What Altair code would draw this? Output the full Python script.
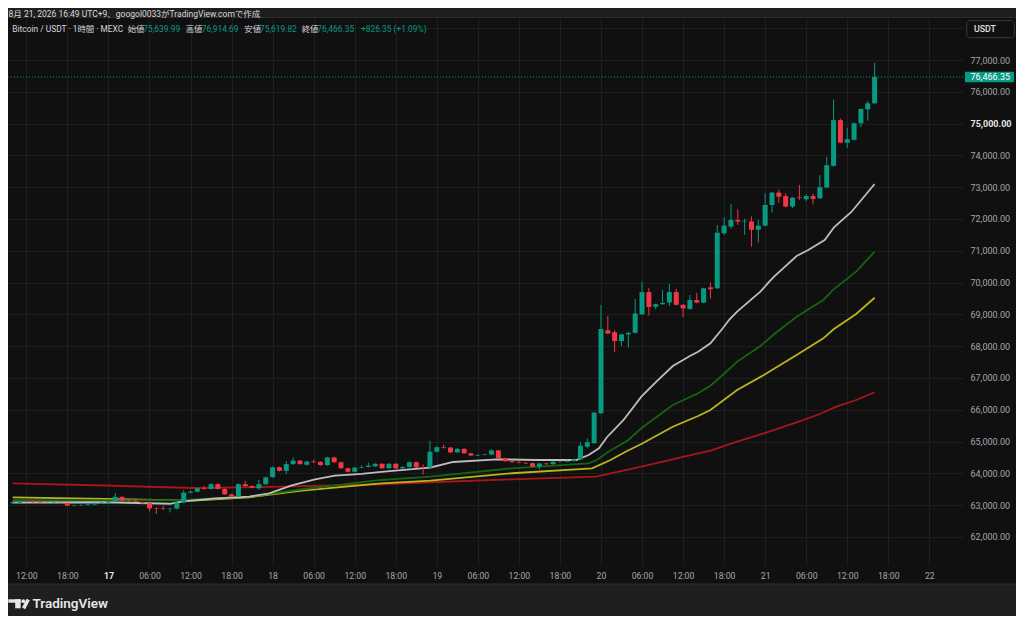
import altair as alt
import pandas as pd

# ---------------- data ----------------
FIRST_HOUR = 10  # first hourly bar = Aug 16 10:00 (hours counted from Aug 16 00:00)

opens = [63060, 63070, 63110, 63130, 63090, 63070, 63060, 63075, 63070, 62985,
         62995, 63000, 63020, 63060, 63080, 63130, 63260, 63140, 63125, 63100,
         63060, 62900, 62895, 62875, 62890, 63080, 63390, 63420, 63530, 63510,
         63660, 63510, 63340, 63270, 63660, 63600, 63530, 63660, 63880, 64190,
         64080, 64290, 64400, 64270, 64370, 64360, 64260, 64500, 64350, 64160,
         64050, 64180, 64200, 64220, 64300, 64160, 64300, 64160, 64200, 64350,
         64190, 64180, 64680, 64820, 64810, 64660, 64770, 64630, 64560, 64580,
         64590, 64720, 64470, 64380, 64355, 64330, 64320, 64210, 64310, 64290,
         64360, 64370, 64390, 64440, 64840, 64950, 65890, 68500, 68440, 68160,
         68370, 68420, 69000, 69700, 69240, 69320, 69370, 69700, 69300, 69170,
         69450, 69370, 69850, 69820, 71550, 71760, 71970, 71920, 71920, 71660,
         71790, 72440, 72830, 72720, 72390, 72690, 72620, 72720, 72650, 72990,
         73670, 75110, 74400, 74490, 75010, 75450, 75639.99]
highs = [63110, 63140, 63130, 63150, 63110, 63090, 63100, 63095, 63090, 63020,
         63030, 63040, 63080, 63100, 63150, 63380, 63280, 63160, 63210, 63110,
         63070, 62930, 62980, 62910, 63100, 63470, 63460, 63560, 63600, 63680,
         63680, 63530, 63360, 63680, 63760, 63620, 63790, 63900, 64210, 64210,
         64390, 64500, 64420, 64390, 64430, 64380, 64520, 64520, 64370, 64180,
         64200, 64250, 64340, 64320, 64320, 64320, 64320, 64220, 64370, 64370,
         64280, 65020, 64850, 64900, 64830, 64790, 64790, 64650, 64600, 64620,
         64760, 64740, 64490, 64400, 64400, 64350, 64340, 64330, 64330, 64380,
         64400, 64420, 64460, 64980, 65100, 65930, 69300, 68950, 68500, 68390,
         68440, 69480, 70030, 69830, 69340, 69770, 69960, 69800, 69320, 69610,
         69670, 69840, 70000, 71810, 72050, 72470, 72300, 72010, 72080, 71970,
         72810, 72850, 72920, 72810, 72690, 73070, 72780, 72800, 73380, 73960,
         75760, 75160, 74870, 75030, 75480, 75710, 76914.69]
lows = [63030, 63050, 63080, 63070, 63050, 63040, 63040, 63040, 62970, 62960,
        62975, 62990, 63000, 63040, 63060, 63110, 63120, 63100, 63080, 63040,
        62800, 62720, 62840, 62770, 62870, 63060, 63370, 63400, 63480, 63490,
        63490, 63320, 63250, 63250, 63580, 63530, 63480, 63640, 63860, 64060,
        63980, 64270, 64270, 64250, 64330, 64240, 64240, 64330, 64140, 64030,
        64030, 64160, 64190, 64200, 64140, 64140, 64140, 64140, 64180, 64170,
        63960, 64160, 64660, 64780, 64640, 64640, 64610, 64540, 64540, 64560,
        64570, 64450, 64360, 64330, 64320, 64290, 64190, 64130, 64270, 64270,
        64340, 64350, 64370, 64420, 64790, 64930, 65870, 68380, 67810, 68010,
        67960, 68400, 68980, 68960, 69160, 69300, 69260, 69280, 68910, 69150,
        69350, 69350, 69500, 69800, 71500, 71700, 71810, 71500, 71130, 71260,
        71770, 72200, 72510, 72370, 72340, 72600, 72560, 72460, 72630, 72970,
        73650, 74380, 74240, 74470, 74900, 75090, 75619.82]
closes = [63090, 63110, 63100, 63090, 63070, 63060, 63075, 63065, 62985, 63000,
          63005, 63020, 63060, 63080, 63130, 63260, 63140, 63125, 63100, 63060,
          62900, 62885, 62880, 62890, 63080, 63390, 63420, 63530, 63510, 63660,
          63510, 63340, 63270, 63660, 63600, 63550, 63660, 63880, 64190, 64080,
          64290, 64400, 64290, 64370, 64350, 64260, 64500, 64350, 64160, 64050,
          64180, 64200, 64240, 64300, 64160, 64300, 64160, 64200, 64350, 64190,
          64170, 64680, 64820, 64800, 64660, 64770, 64630, 64560, 64580, 64595,
          64720, 64470, 64380, 64350, 64340, 64310, 64210, 64310, 64290, 64360,
          64370, 64390, 64440, 64870, 64980, 65910, 68540, 68400, 68160, 68370,
          68420, 69030, 69700, 69230, 69320, 69360, 69700, 69300, 69190, 69450,
          69370, 69820, 69790, 71570, 71790, 71970, 71920, 71940, 71660, 71790,
          72440, 72830, 72700, 72390, 72670, 72670, 72720, 72630, 73000, 73690,
          75110, 74400, 74510, 75010, 75460, 75640.00, 76466.35]

# moving-average lines, read at points (hour, price)
white_t = [10, 23.4, 33.0, 34.9, 39.7, 44.6, 47.5, 50.8, 54.2, 57.1, 61.0, 63.9, 69.7,
           71.1, 74.4, 80.8, 86.6, 92.4, 94.2, 95.7, 96.9, 99.3, 101.9, 104.1, 106.5,
           109.0, 110.2, 112.0, 113.8, 114.8, 115.9, 119.3, 120.6, 121.3, 124.6, 126.3,
           128.7, 130.1, 132.6, 136.0]
white_v = [63083, 63090, 63043, 63115, 63215, 63266, 63373, 63618, 63813, 63926, 63980,
           64043, 64159, 64184, 64357, 64442, 64420, 64420, 64577, 64788, 65143, 65678,
           66411, 66883, 67376, 67691, 67826, 68090, 68562, 68845, 69084, 69713, 70028,
           70185, 70836, 71025, 71339, 71748, 72220, 73100]
green_t = [10, 23.4, 34.9, 44.6, 52.3, 63.9, 71.1, 83.0, 94.2, 95.4, 97.1, 100.0, 101.9,
           106.5, 110.2, 112.0, 113.8, 115.9, 119.3, 121.3, 124.6, 128.5, 130.0, 133.3, 136.0]
green_v = [63162, 63146, 63162, 63266, 63499, 63791, 63895, 64159, 64316, 64420, 64681,
           65049, 65417, 66150, 66518, 66757, 67093, 67511, 68005, 68373, 68927, 69452,
           69788, 70342, 70971]
yellow_t = [10, 23.4, 36.4, 44.6, 52.3, 63.9, 71.1, 83.0, 94.7, 97.4, 99.6, 101.9, 106.5,
            110.2, 112.0, 115.9, 119.8, 124.6, 128.5, 130.0, 133.3, 136.0]
yellow_v = [63247, 63194, 63140, 63247, 63455, 63687, 63769, 64002, 64159, 64420, 64681,
            64923, 65467, 65804, 65993, 66622, 67093, 67722, 68247, 68530, 69012, 69524]
red_t = [10, 23.4, 36.4, 49.4, 63.9, 71.1, 83.0, 95.3, 101.9, 110.2, 112.0, 115.9, 119.8,
         124.6, 127.9, 130.4, 133.3, 136.0]
red_v = [63687, 63618, 63539, 63580, 63656, 63719, 63813, 63895, 64209, 64631, 64712,
         64996, 65260, 65606, 65858, 66096, 66307, 66549]

y_ticks = list(range(62000, 79000, 1000))
x_ticks = list(range(12, 145, 6))

# ---------------- styling ----------------
W, H = 955, 547
PANEL = "#101010"
FRAME = "#1f1f1f"
GRID = "#1e1e1e"
UP = "#089981"
DOWN = "#f23645"
TXT = "#d1d4dc"
AXT = "#a3a6af"
FONT = "Roboto, 'Noto Sans CJK JP', sans-serif"

xscale = alt.Scale(domain=[10.05, 148.19], nice=False, zero=False)
yscale = alt.Scale(domain=[61117, 78321], nice=False, zero=False)

candles = pd.DataFrame({
    "t": [FIRST_HOUR + i for i in range(len(opens))],
    "o": opens, "h": highs, "l": lows, "c": closes,
})
candles["dir"] = ["up" if c >= o else "down" for o, c in zip(opens, closes)]
dir_color = alt.Color("dir:N", scale=alt.Scale(domain=["up", "down"], range=[UP, DOWN]), legend=None)

one = pd.DataFrame({"a": [0]})

x_axis = alt.Axis(
    values=x_ticks, grid=True, gridColor=GRID, domain=False, ticks=False, title=None,
    labelExpr="datum.value % 24 == 0 ? toString(16 + datum.value / 24) : "
              "((datum.value % 24 < 10 ? '0' : '') + toString(datum.value % 24) + ':00')",
    labelColor={"condition": {"test": "datum.value == 24", "value": "#e6e6e6"}, "value": AXT},
    labelFontWeight={"condition": {"test": "datum.value == 24", "value": "bold"}, "value": "normal"},
    labelFont=FONT, labelFontSize=8.7, labelPadding=6, labelFlush=False, labelOverlap=False,
)
y_axis = alt.Axis(
    orient="right", values=y_ticks, grid=True, gridColor=GRID, domain=False, ticks=False,
    title=None, labelAlign="left", labelPadding=7, labelFont=FONT, labelFontSize=9,
    labelExpr="datum.value > 77500 ? '' : format(datum.value, ',.2f')",
    labelColor={"condition": {"test": "datum.value == 75000", "value": "#e6e6e6"}, "value": AXT},
    labelFontWeight={"condition": {"test": "datum.value == 75000", "value": "bold"}, "value": "normal"},
    labelFlush=False, labelOverlap=False,
)


def X(field):
    return alt.X(field, scale=xscale, axis=x_axis, title=None)


def Y(field):
    return alt.Y(field, scale=yscale, axis=y_axis, title=None)


def txt(s, x, y, color=TXT, size=8.6, weight="normal", align="left", font=FONT):
    return alt.Chart(pd.DataFrame({"s": [s]})).mark_text(
        align=align, baseline="middle", color=color, fontSize=size, fontWeight=weight, font=font
    ).encode(x=alt.value(x), y=alt.value(y), text="s:N")


def box(x, x2, y, y2, fill, stroke=None, radius=0):
    kw = dict(fill=fill, cornerRadius=radius)
    if stroke:
        kw.update(stroke=stroke, strokeWidth=1)
    return alt.Chart(one).mark_rect(**kw).encode(
        x=alt.value(x), x2=alt.value(x2), y=alt.value(y), y2=alt.value(y2))


layers = []
# frame bands (outside the dark panel)
layers.append(box(-10, 1010, -12, -0.5, FRAME))
layers.append(box(-10, 1010, 566, 600, FRAME))
layers.append(alt.Chart(one).mark_rule(color="#2c2c2c").encode(
    x=alt.value(-2), x2=alt.value(1010), y=alt.value(-0.5)))
layers.append(alt.Chart(one).mark_rule(color="#2c2c2c").encode(
    x=alt.value(-2), x2=alt.value(1010), y=alt.value(566)))

# moving averages
for tt, vv, col in [(red_t, red_v, "#a8161a"), (yellow_t, yellow_v, "#bcb41f"),
                    (green_t, green_v, "#146414"), (white_t, white_v, "#bdbdbd")]:
    df = pd.DataFrame({"t": tt, "c": vv})
    layers.append(alt.Chart(df).mark_line(color=col, strokeWidth=1.8, clip=True).encode(
        x=X("t:Q"), y=Y("c:Q")))

# candles
layers.append(alt.Chart(candles).mark_rule(strokeWidth=1, clip=True).encode(
    x=X("t:Q"), y=Y("l:Q"), y2="h:Q", color=dir_color))
layers.append(alt.Chart(candles).mark_bar(size=5, clip=True).encode(
    x=X("t:Q"), y=Y("o:Q"), y2="c:Q", color=dir_color))

# last price line + label
last = pd.DataFrame({"c": [closes[-1]], "s": [f"{closes[-1]:,.2f}"]})
layers.append(alt.Chart(last).mark_rule(color=UP, strokeDash=[1, 2], strokeWidth=1).encode(
    y=Y("c:Q"), x=alt.value(0), x2=alt.value(W)))
layers.append(alt.Chart(last).transform_calculate(
    p1="datum.c + 168", p2="datum.c - 168").mark_rect(color=UP, cornerRadius=1).encode(
    y=Y("p1:Q"), y2="p2:Q", x=alt.value(957), x2=alt.value(1006)))
layers.append(alt.Chart(last).mark_text(align="left", baseline="middle", color="#ffffff",
                                        fontSize=9, font=FONT).encode(
    y=Y("c:Q"), x=alt.value(962.5), text="s:N"))

# USDT button
layers.append(box(958.7, 1006.3, 2.7, 19.7, PANEL, stroke="#3a3a3a", radius=3))
layers.append(txt("USDT", 966, 11.4, color="#e0e0e0", size=8.8, weight=500))

# header + legend
layers.append(txt("8月 21, 2026 16:49 UTC+9、googol0033がTradingView.comで作成", 0.5, -4.5,
                  color="#d8d8d8", size=8.5))
change = closes[-1] - closes[-2]
pct = change / closes[-2] * 100
legend_items = [
    ("Bitcoin / USDT · 1時間 · MEXC", 4.3, TXT),
    ("始値", 119.7, TXT), (f"{opens[-1]:,.2f}", 135.3, UP),
    ("高値", 177.7, TXT), (f"{highs[-1]:,.2f}", 193.7, UP),
    ("安値", 236.3, TXT), (f"{lows[-1]:,.2f}", 252, UP),
    ("終値", 293.7, TXT), (f"{closes[-1]:,.2f}", 309.3, UP),
    (f"+{change:,.2f} (+{pct:.2f}%)", 353, UP),
]
for s, x, col in legend_items:
    layers.append(txt(s, x, 10.7, color=col, size=8.4))

# footer logo
layers.append(box(0.3, 12.7, 581.3, 584.7, "#e6e6e6"))
layers.append(box(7.2, 12.7, 581.3, 590.3, "#e6e6e6"))
layers.append(alt.Chart(one).mark_point(filled=True, size=14, color="#e6e6e6", opacity=1).encode(
    x=alt.value(15.3), y=alt.value(583.2)))
layers.append(alt.Chart(one).mark_rule(color="#e6e6e6", strokeWidth=3.6).encode(
    x=alt.value(20.2), x2=alt.value(15.6), y=alt.value(581.5), y2=alt.value(590.3)))
layers.append(txt("TradingView", 24.5, 586, color="#e6e6e6", size=13.5, weight=600))

chart = alt.layer(*layers).properties(
    width=W, height=H,
    padding={"left": 0, "top": 10, "right": 53, "bottom": 51},
    autosize=alt.AutoSizeParams(type="none"),
).configure(background=PANEL).configure_view(stroke=None).configure_axis(labelOverlap=False)

chart.save("out.html", embed_options={"renderer": "svg", "actions": False})
